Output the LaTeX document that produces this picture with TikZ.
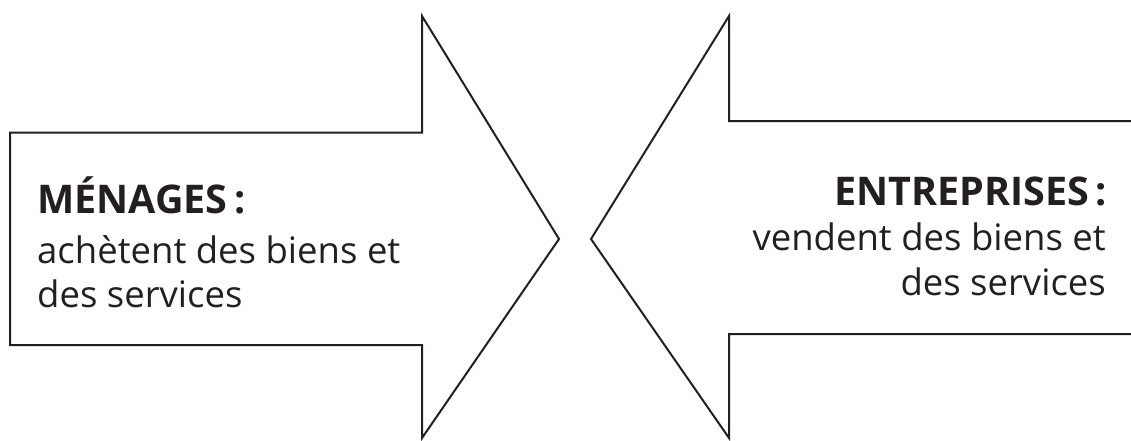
\documentclass[tikz,border=0pt]{standalone}
\usepackage{fontspec}
\setmainfont{Open Sans}
\definecolor{ink}{HTML}{231F20}
\begin{document}
\begin{tikzpicture}[x=1pt,y=-1pt,
  arrowshape/.style={draw=ink,line width=2pt,line join=miter},
  headtxt/.style={inner sep=0pt,font=\fontsize{39.5}{40}\selectfont\bfseries,text=ink},
  bodytxt/.style={inner sep=0pt,font=\fontsize{36.5}{40}\selectfont,text=ink}]
\useasboundingbox (0,0) rectangle (1131,440);
% left arrow
\draw[arrowshape] (10,132.5) -- (422,132.5) -- (422,16) -- (559,239) -- (422,438) -- (422,345) -- (10,345) -- cycle;
% right arrow
\draw[arrowshape] (1140,121) -- (729,121) -- (729,16) -- (591,239) -- (729,438) -- (729,334) -- (1140,334);
% left text
\node[headtxt,anchor=base west] (m1) at (37,213) {MÉNAGES\,:};
\node[bodytxt,anchor=base west] (m2) at (37,263) {achètent des biens et};
\node[bodytxt,anchor=base west] (m3) at (37,307) {des services};
% right text
\node[headtxt,anchor=base east] (e1) at (1107,205) {ENTREPRISES\,:};
\node[bodytxt,anchor=base east] (e2) at (1106,250) {vendent des biens et};
\node[bodytxt,anchor=base east] (e3) at (1106,295) {des services};
\end{tikzpicture}
\end{document}
